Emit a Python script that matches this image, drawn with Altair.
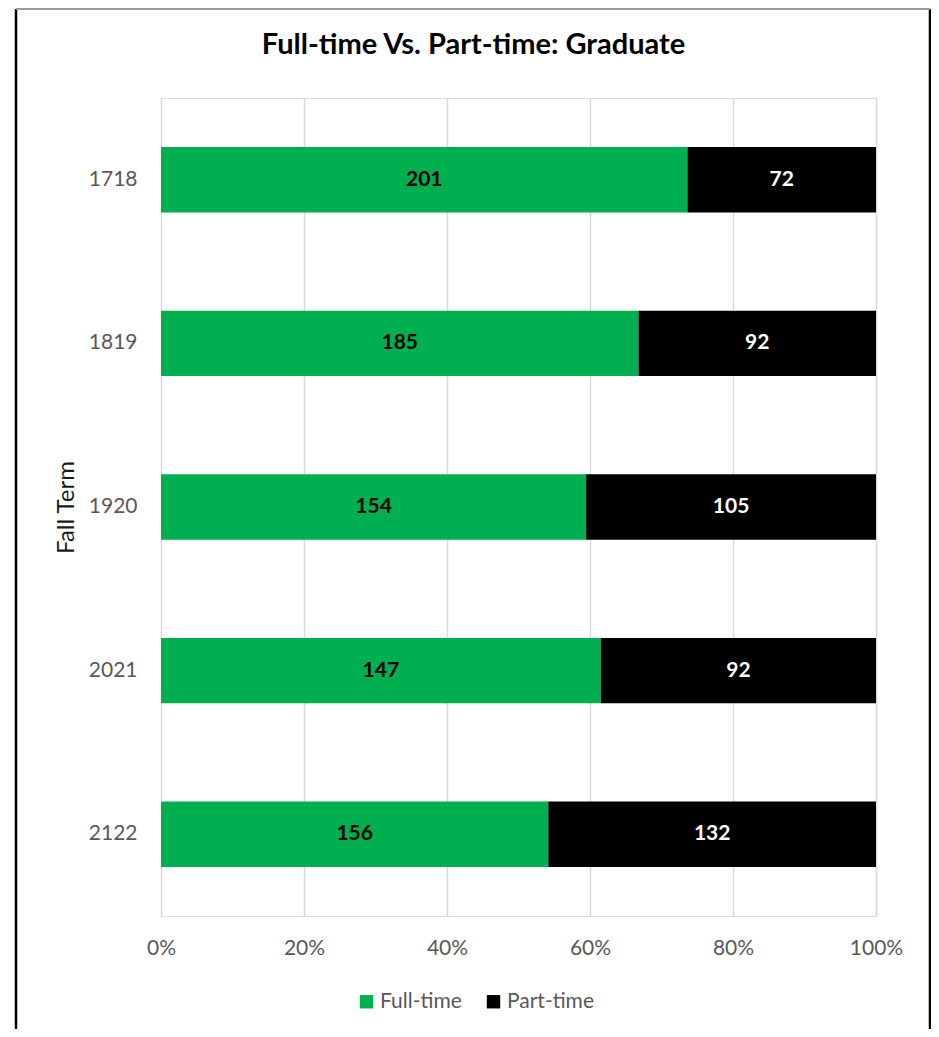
import altair as alt
import pandas as pd

terms = ["1718", "1819", "1920", "2021", "2122"]
full_time = [201, 185, 154, 147, 156]
part_time = [72, 92, 105, 92, 132]
series = ["Full-time", "Part-time"]
colors = ["#00B050", "#000000"]
tick_values = [0, 0.2, 0.4, 0.6, 0.8, 1.0]
title_text = ["Full-time Vs. Part-time: Graduate"]

rows = []
for i, t in enumerate(terms):
    rows.append({"term": t, "type": series[0], "count": full_time[i], "order": 0})
    rows.append({"term": t, "type": series[1], "count": part_time[i], "order": 1})
df = pd.DataFrame(rows)

FONT = "Lato"

base = alt.Chart(df).transform_stack(
    stack="count",
    groupby=["term"],
    as_=["x0", "x1"],
    offset="normalize",
    sort=[alt.SortField("order", order="ascending")],
).transform_calculate(mid="(datum.x0 + datum.x1) / 2")

y_enc = alt.Y(
    "term:N",
    sort=terms,
    scale=alt.Scale(paddingInner=0.6, paddingOuter=0.3),
    axis=alt.Axis(
        title="Fall Term",
        domain=False,
        ticks=False,
        grid=False,
        labelFontSize=21,
        labelColor="#595959",
        labelFont=FONT,
        labelPadding=24,
        titleFontSize=24,
        titleFont=FONT,
        titleFontWeight="normal",
        titleColor="#1a1a1a",
        titlePadding=10,
    ),
)

bars = base.mark_bar().encode(
    x=alt.X(
        "x0:Q",
        scale=alt.Scale(domain=[0, 1], nice=False),
        axis=alt.Axis(
            title=None,
            format="%",
            values=tick_values,
            grid=True,
            gridColor="#D9D9D9",
            gridWidth=1.5,
            domain=False,
            ticks=False,
            labelFlush=False,
            labelFontSize=21,
            labelColor="#595959",
            labelFont=FONT,
            labelPadding=21,
        ),
    ),
    x2="x1:Q",
    y=y_enc,
    color=alt.Color(
        "type:N",
        scale=alt.Scale(domain=series, range=colors),
        legend=alt.Legend(
            title=None,
            orient="none",
            legendX=195,
            legendY=893,
            direction="horizontal",
            symbolType="square",
            symbolSize=180,
            symbolStrokeWidth=0,
            labelFontSize=21,
            labelFont=FONT,
            labelColor="#595959",
            labelOffset=3,
            columnPadding=21,
            padding=0,
        ),
    ),
)

labels = base.mark_text(fontSize=21, fontWeight="bold", font=FONT).encode(
    x=alt.X("mid:Q"),
    y=alt.Y("term:N", sort=terms),
    text=alt.Text("count:Q"),
    color=alt.condition(
        alt.datum.type == "Part-time", alt.value("#FFFFFF"), alt.value("#000000")
    ),
)

frame_df = pd.DataFrame({"k": [0]})
left_line = alt.Chart(frame_df).mark_rule(color="#000000", strokeWidth=2.5, clip=False).encode(
    x=alt.value(-145), y=alt.value(-89), y2=alt.value(940)
)
right_line = alt.Chart(frame_df).mark_rule(color="#000000", strokeWidth=2.5, clip=False).encode(
    x=alt.value(769), y=alt.value(-89), y2=alt.value(940)
)
top_line = alt.Chart(frame_df).mark_rule(color="#9a9a9a", strokeWidth=2, clip=False).encode(
    x=alt.value(-145), x2=alt.value(769), y=alt.value(-89)
)

title_mark = alt.Chart(pd.DataFrame({"t": title_text})).mark_text(
    fontSize=29, fontWeight="bold", font=FONT, color="#000000",
    align="center", baseline="alphabetic", clip=False,
).encode(x=alt.value(312.5), y=alt.value(-44), text="t:N")

chart = alt.layer(bars, labels, left_line, right_line, top_line, title_mark).properties(
    width=715,
    height=818,
    padding={"left": 153, "top": 90, "right": 55, "bottom": 113},
    autosize=alt.AutoSizeParams(type="none"),
).configure_view(stroke=None).configure(background="white")

chart.save("out.html", embed_options={"renderer": "svg", "actions": False})
